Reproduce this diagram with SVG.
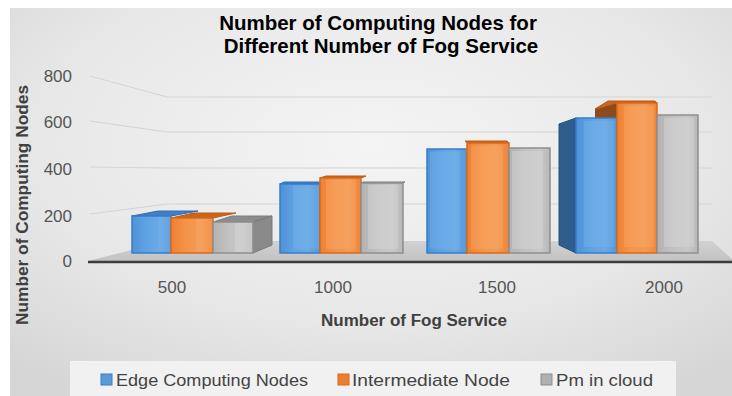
<svg xmlns="http://www.w3.org/2000/svg" width="732" height="396" viewBox="0 0 732 396">
<defs>
<radialGradient id="bg" cx="0.5" cy="0.35" r="0.75">
<stop offset="0" stop-color="#f4f4f4"/>
<stop offset="0.6" stop-color="#e8e8e8"/>
<stop offset="1" stop-color="#d6d6d6"/>
</radialGradient>
<linearGradient id="gBlue" x1="0" y1="0" x2="1" y2="0">
<stop offset="0" stop-color="#4f92d8"/>
<stop offset="0.35" stop-color="#5fa2e4"/>
<stop offset="0.7" stop-color="#6aaae6"/>
<stop offset="1" stop-color="#5596da"/>
</linearGradient>
<linearGradient id="gOrange" x1="0" y1="0" x2="1" y2="0">
<stop offset="0" stop-color="#ee8030"/>
<stop offset="0.35" stop-color="#f4944a"/>
<stop offset="0.7" stop-color="#f39a55"/>
<stop offset="1" stop-color="#ee8535"/>
</linearGradient>
<linearGradient id="gGray" x1="0" y1="0" x2="1" y2="0">
<stop offset="0" stop-color="#b2b2b2"/>
<stop offset="0.4" stop-color="#c2c2c2"/>
<stop offset="0.75" stop-color="#c8c8c8"/>
<stop offset="1" stop-color="#b8b8b8"/>
</linearGradient>
<linearGradient id="gFloor" x1="0" y1="0" x2="0" y2="1">
<stop offset="0" stop-color="#d2d2d2"/>
<stop offset="1" stop-color="#c2c2c2"/>
</linearGradient>
</defs>
<style>
.grid{stroke:#d4d4d4;stroke-width:1;fill:none}
.ytick{font-family:"Liberation Sans",Arial,sans-serif;font-size:17px;fill:#555;text-anchor:end}
.xtick{font-family:"Liberation Sans",Arial,sans-serif;font-size:17px;fill:#555;text-anchor:middle}
.axtitle{font-family:"Liberation Sans",Arial,sans-serif;font-size:16px;font-weight:bold;fill:#404040;text-anchor:middle}
.title{font-family:"Liberation Sans",Arial,sans-serif;font-size:20.5px;font-weight:bold;fill:#000;text-anchor:middle}
.leg{font-family:"Liberation Sans",Arial,sans-serif;font-size:17px;fill:#444}
.blue{fill:url(#gBlue);stroke:#3a7cc6;stroke-width:1.5}
.orange{fill:url(#gOrange);stroke:#d9691c;stroke-width:1.5}
.gray{fill:url(#gGray);stroke:#8e8e8e;stroke-width:1.5}
.blueTop{fill:#3f80c8;stroke:#2f6db0;stroke-width:1}
.orangeTop{fill:#c8651f;stroke:#c05a14;stroke-width:1}
.grayTop{fill:#8c8c8c;stroke:#7c7c7c;stroke-width:1}
.blueSide{fill:#2f5e8e;stroke:#284f78;stroke-width:1}
.orangeSide{fill:#8e4a1a}
.graySide{fill:#8a8a8a;stroke:#7a7a7a;stroke-width:1}
.innerB{fill:#7ab6ec;opacity:0.35}
.innerO{fill:#f8ad70;opacity:0.35}
.innerG{fill:#d8d8d8;opacity:0.45}
</style>
<rect x="0" y="0" width="732" height="396" fill="#ffffff"/>
<rect x="10" y="8" width="722" height="388" fill="url(#bg)"/>

<g id="title">
<text class="title" x="378" y="30">Number of Computing Nodes for</text>
<text class="title" x="381" y="53">Different Number of Fog Service</text>
</g>

<g id="gridlines">
<polyline class="grid" points="90,76 167,97 712,97"/>
<polyline class="grid" points="90,121 167,132 712,132"/>
<polyline class="grid" points="90,167 167,168 712,168"/>
<polyline class="grid" points="90,214 167,204 712,204"/>
<polygon points="88,261 167,241 712,241 732,259 732,261" fill="url(#gFloor)"/>
<line x1="88" y1="262" x2="732" y2="262" stroke="#3c3c3c" stroke-width="2.5"/>
</g>

<g id="y-axis">
<text class="ytick" x="72" y="82">800</text>
<text class="ytick" x="72" y="128">600</text>
<text class="ytick" x="72" y="175">400</text>
<text class="ytick" x="72" y="222">200</text>
<text class="ytick" x="72" y="267">0</text>
<text class="axtitle" transform="translate(28,205) rotate(-90)" textLength="240" lengthAdjust="spacingAndGlyphs">Number of Computing Nodes</text>
</g>

<g id="x-axis">
<text class="xtick" x="172" y="293">500</text>
<text class="xtick" x="333" y="293">1000</text>
<text class="xtick" x="497" y="293">1500</text>
<text class="xtick" x="664" y="293">2000</text>
<text class="axtitle" x="414" y="326" textLength="186" lengthAdjust="spacingAndGlyphs">Number of Fog Service</text>
</g>

<g id="bars-500">
<polygon class="blueTop" points="132,216 171,216 198,211 158,211"/>
<rect class="blue" x="132" y="216" width="39" height="37"/>
<rect class="innerB" x="159" y="217" width="11" height="35"/>
<polygon class="orangeTop" points="171,218 213,218 236,213 194,213"/>
<rect class="orange" x="171" y="218" width="42" height="35"/>
<rect class="innerO" x="196" y="219" width="16" height="33"/>
<polygon class="grayTop" points="213,222 253,222 272,216 232,216"/>
<polygon class="graySide" points="253,222 272,216 272,245 253,253"/>
<rect class="gray" x="213" y="222" width="40" height="31"/>
<rect class="innerG" x="235" y="223" width="17" height="29"/>
</g>

<g id="bars-1000">
<polygon class="blueTop" points="280,184 320,184 324,182 284,182"/>
<rect class="blue" x="280" y="184" width="40" height="69"/>
<rect class="innerB" x="293" y="186" width="26" height="63"/>
<polygon class="orangeTop" points="320,178 361,178 366,176 326,176"/>
<rect class="orange" x="320" y="178" width="41" height="75"/>
<rect class="innerO" x="326" y="180" width="30" height="69"/>
<polygon class="grayTop" points="361,183 403,183 405,182 363,182"/>
<rect class="gray" x="361" y="183" width="42" height="70"/>
<rect class="innerG" x="368" y="185" width="30" height="64"/>
</g>

<g id="bars-1500">
<rect class="blue" x="427" y="149" width="40" height="104"/>
<rect class="innerB" x="430" y="152" width="30" height="97"/>
<polygon class="orangeTop" points="467,143 509,143 507,141 465,141"/>
<rect class="orange" x="467" y="143" width="42" height="110"/>
<rect class="innerO" x="471" y="146" width="32" height="103"/>
<rect class="gray" x="509" y="148" width="41" height="105"/>
<rect class="innerG" x="512" y="151" width="31" height="98"/>
</g>

<g id="bars-2000">
<polygon class="orangeSide" points="595,109 617,103 617,253 595,245"/>
<polygon class="orangeTop" points="608,101 655,101 657,103 617,103 595,109"/>
<polygon class="blueSide" points="559,124 576,118 576,253 559,245"/>
<rect class="blue" x="576" y="118" width="41" height="135"/>
<rect class="innerB" x="584" y="121" width="30" height="126"/>
<rect class="orange" x="617" y="103" width="40" height="150"/>
<rect class="innerO" x="624" y="106" width="30" height="141"/>
<rect class="gray" x="657" y="115" width="41" height="138"/>
<rect class="innerG" x="664" y="118" width="30" height="129"/>
</g>

<g id="legend">
<rect x="70" y="361" width="606" height="35" fill="#f1f1f1"/>
<rect x="101" y="374" width="11" height="11" fill="#5b9bd5" stroke="#3a7cc6" stroke-width="1"/>
<text class="leg" x="116" y="386" textLength="192" lengthAdjust="spacingAndGlyphs">Edge Computing Nodes</text>
<rect x="338" y="374" width="11" height="11" fill="#ed7d31" stroke="#d9691c" stroke-width="1"/>
<text class="leg" x="352" y="386" textLength="158" lengthAdjust="spacingAndGlyphs">Intermediate Node</text>
<rect x="541" y="374" width="11" height="11" fill="#b0b0b0" stroke="#8e8e8e" stroke-width="1"/>
<text class="leg" x="556" y="386" textLength="97" lengthAdjust="spacingAndGlyphs">Pm in cloud</text>
</g>
</svg>
